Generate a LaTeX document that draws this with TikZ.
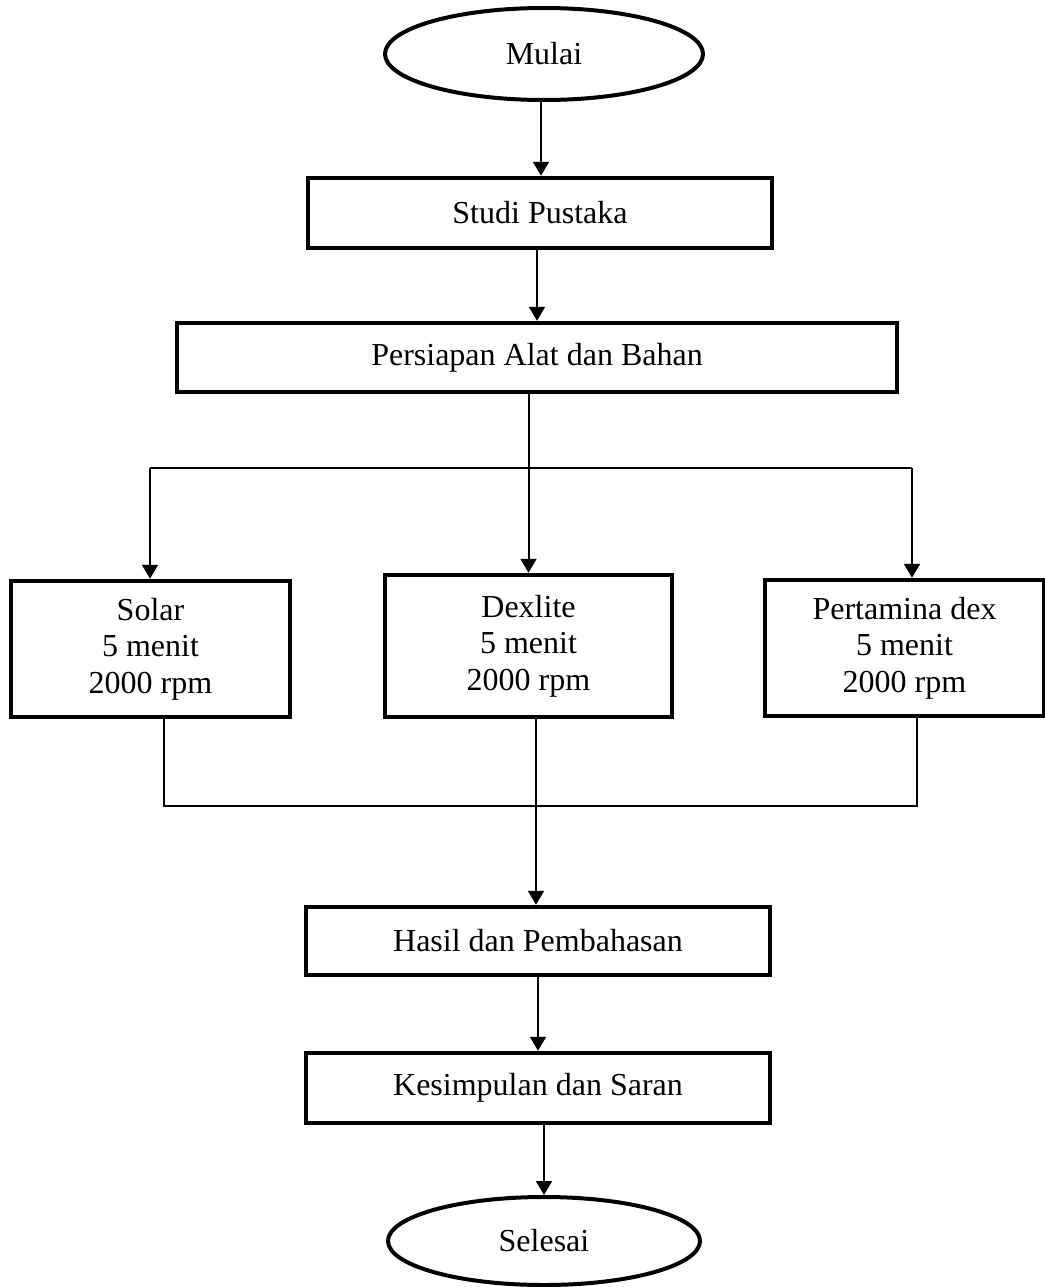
\documentclass[tikz,border=0pt]{standalone}
\usepackage{fontspec}
\setmainfont{Liberation Serif}
\usetikzlibrary{shapes.geometric,arrows.meta}
\tikzset{
  procbox/.style={draw, line width=4.5pt, rectangle, inner sep=0pt, align=center,
    font=\fontsize{32}{36.5}\selectfont},
  term/.style={draw, line width=4pt, ellipse, inner sep=0pt,
    font=\fontsize{32}{36.5}\selectfont},
  conn/.style={line width=2pt},
  arr/.style={line width=2pt, -{Triangle[width=16pt,length=14pt]}}
}
\begin{document}
\begin{tikzpicture}[x=1pt,y=-1pt]
\useasboundingbox (0,0) rectangle (1044,1287);
\node[term, minimum width=318pt, minimum height=92pt] (mulai) at (544,54) {Mulai};
\node[procbox, minimum width=464pt, minimum height=70pt] (studi) at (540,213) {Studi Pustaka};
\node[procbox, minimum width=720pt, minimum height=69pt] (persiapan) at (537,357.5) {Persiapan Alat dan Bahan};
\node[procbox, minimum width=279pt, minimum height=136pt] (solar) at (150.5,649) {Solar\\5 menit\\2000 rpm};
\node[procbox, minimum width=287pt, minimum height=142pt] (dexlite) at (528.5,646) {Dexlite\\5 menit\\2000 rpm};
\node[procbox, minimum width=279pt, minimum height=136pt] (pertamina) at (904.5,648) {Pertamina dex\\5 menit\\2000 rpm};
\node[procbox, minimum width=464pt, minimum height=68pt] (hasil) at (538,941) {Hasil dan Pembahasan};
\node[procbox, minimum width=464pt, minimum height=70pt] (kesimpulan) at (538,1088) {Kesimpulan dan Saran};
\node[term, minimum width=312pt, minimum height=88pt] (selesai) at (544,1241) {Selesai};

\coordinate (jl) at (150,468);
\coordinate (jr) at (912,468);
\coordinate (bl) at (164,806);
\coordinate (br) at (917,806);

\draw[arr] ([xshift=-3pt]mulai.south) -- ([xshift=-3pt]mulai.south |- studi.north);
\draw[arr] (persiapan.north |- studi.south) -- (persiapan.north);
\draw[arr] (dexlite.north |- persiapan.south) -- (dexlite.north);
\draw[conn] (jl) -- (jr);
\draw[arr] (jl) -- (jl |- solar.north);
\draw[arr] (jr) -- (jr |- pertamina.north);
\draw[conn] (bl |- solar.south) -- (bl) -- (br) -- (br |- pertamina.south);
\draw[arr] ([xshift=7.5pt]dexlite.south) -- ([xshift=7.5pt]dexlite.south |- hasil.north);
\draw[arr] (hasil.south) -- (kesimpulan.north);
\draw[arr] (selesai.north |- kesimpulan.south) -- (selesai.north);
\end{tikzpicture}
\end{document}
